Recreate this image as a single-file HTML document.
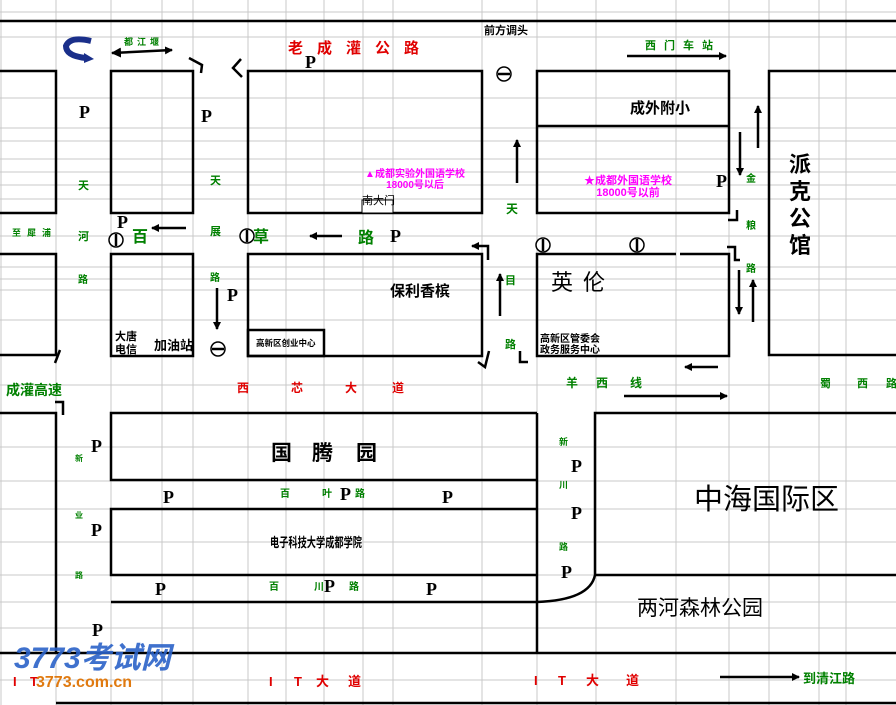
<!DOCTYPE html>
<html><head><meta charset="utf-8"><style>
html,body{margin:0;padding:0;background:#fff;}
svg{display:block;}
text{font-family:"Liberation Sans","Noto Sans CJK SC",sans-serif;}
.b{font-weight:bold;}
.g{fill:#008000;font-weight:bold;}
.r{fill:#e00000;font-weight:bold;}
.m{fill:#ff00ff;font-weight:bold;}
.P{font-family:"Liberation Serif",serif;font-size:18px;font-weight:bold;}
</style></head><body>
<svg width="896" height="705" viewBox="0 0 896 705" xmlns="http://www.w3.org/2000/svg">
<defs>
<marker id="ah" markerWidth="8" markerHeight="8" refX="7" refY="4" orient="auto" markerUnits="userSpaceOnUse"><path d="M0,0 L8,4 L0,8 Z" fill="#000"/></marker>
<marker id="ah2" markerWidth="10" markerHeight="10" refX="1" refY="5" orient="auto" markerUnits="userSpaceOnUse"><path d="M10,0 L0,5 L10,10 Z" fill="#000"/></marker>
</defs>
<g stroke="#c8c8c8" stroke-width="1">
<path d="M1,0V705M56,0V705M111,0V705M162,0V705M193,0V705M248,0V705M286,0V705M324,0V705M363,0V705M393,0V705M482,0V705M537,0V705M596,0V705M676,0V705M729,0V705M769,0V705M819,0V705M846,0V705"/>
<path d="M0,12H896M0,37H896M0,98H896M0,128H896M0,141H896M0,159H896M0,172H896M0,185H896M0,199H896M0,236H896M0,267H896M0,279H896M0,290H896M0,320H896M0,385H896M0,447H896M0,481H896M0,509H896M0,542H896M0,575H896M0,602H896M0,628H896M0,680H896"/>
</g>
<g fill="none" stroke="#000" stroke-width="2.5">
<path d="M0,21H896"/>
<path d="M0,71H56V213H0"/>
<rect x="111" y="71" width="82" height="142"/>
<rect x="248" y="71" width="234" height="142"/>
<rect x="537" y="71" width="192" height="142"/>
<path d="M537,126H729"/>
<path d="M896,71H769V355H896"/>
<path d="M0,254H56V355H0"/>
<rect x="111" y="254" width="82" height="102"/>
<rect x="248" y="254" width="234" height="102"/>
<rect x="248" y="330" width="76" height="26"/>
<path d="M676,254H537V356H729V254H680"/>
<path d="M0,413H56V653"/>
<path d="M537,413H111V480H537M537,509H111V575H537M537,602H111"/>
<path d="M537,413V602M537,602V653"/>
<path d="M896,413H595V575Q590,600 537,602"/>
<path d="M595,575H896"/>
<path d="M0,653H896M56,703H896"/>
</g>
<rect x="362" y="200" width="31" height="13" fill="#fff" stroke="#000" stroke-width="1"/>
<g stroke="#000" stroke-width="2.5" fill="none">
<line x1="112" y1="53" x2="172" y2="50" marker-end="url(#ah)" marker-start="url(#ah2)"/>
<line x1="627" y1="56" x2="726" y2="56" marker-end="url(#ah)"/>
<line x1="186" y1="228" x2="152" y2="228" marker-end="url(#ah)"/>
<line x1="342" y1="236" x2="310" y2="236" marker-end="url(#ah)"/>
<line x1="517" y1="183" x2="517" y2="140" marker-end="url(#ah)"/>
<line x1="500" y1="316" x2="500" y2="274" marker-end="url(#ah)"/>
<line x1="217" y1="288" x2="217" y2="329" marker-end="url(#ah)"/>
<line x1="740" y1="132" x2="740" y2="175" marker-end="url(#ah)"/>
<line x1="758" y1="148" x2="758" y2="106" marker-end="url(#ah)"/>
<line x1="739" y1="270" x2="739" y2="314" marker-end="url(#ah)"/>
<line x1="753" y1="322" x2="753" y2="280" marker-end="url(#ah)"/>
<line x1="718" y1="367" x2="685" y2="367" marker-end="url(#ah)"/>
<line x1="624" y1="396" x2="727" y2="396" marker-end="url(#ah)"/>
<line x1="720" y1="677" x2="799" y2="677" marker-end="url(#ah)"/>
<path d="M189,58L202,65L201,73" /><path d="M242,77L233,68L241,59"/>
<path d="M488,260V246H472" marker-end="url(#ah)"/>
<path d="M737,210V220H728"/><path d="M727,247H735V260H740" />
<path d="M55,363L60,350"/><path d="M55,402H63V415"/>
<path d="M478,362L485,367L489,351"/><path d="M520,351V362H528"/>
</g>
<path d="M91,41Q70,36 66,46Q66,56 86,58" fill="none" stroke="#1a2f8a" stroke-width="6"/>
<path d="M84,53L94,59L84,63Z" fill="#1a2f8a"/>
<g fill="#fff" stroke="#000" stroke-width="1.5">
<circle cx="504" cy="74" r="7"/><circle cx="218" cy="349" r="7"/>
<circle cx="116" cy="240" r="7"/><circle cx="247" cy="236" r="7"/>
<circle cx="543" cy="245" r="7"/><circle cx="637" cy="245" r="7"/>
</g>
<g stroke="#000" stroke-width="2.5">
<path d="M498,74H510M212,349H224M116,234V246M247,230V242M543,239V251M637,239V251"/>
</g>
<text x="288" y="53" class="r" font-size="15" letter-spacing="14">老成灌公路</text>
<text x="484" y="34" class="b" font-size="11">前方调头</text>
<text x="645" y="49" class="g" font-size="11" letter-spacing="8">西门车站</text>
<text x="124" y="45" class="g" font-size="9" letter-spacing="4">都江堰</text>
<text x="79" y="118" class="P">P</text><text x="201" y="122" class="P">P</text><text x="305" y="68" class="P">P</text>
<text x="78" y="189" class="g" font-size="11">天</text><text x="210" y="184" class="g" font-size="11">天</text><text x="506" y="213" class="g" font-size="12">天</text>
<text x="78" y="240" class="g" font-size="11">河</text><text x="210" y="235" class="g" font-size="11">展</text>
<text x="78" y="283" class="g" font-size="10">路</text><text x="210" y="281" class="g" font-size="10">路</text>
<text x="12" y="236" class="g" font-size="9" letter-spacing="6">至犀浦</text>
<text x="117" y="228" class="P">P</text>
<text x="132" y="242" class="g" font-size="16">百</text>
<text x="253" y="242" class="g" font-size="16">草</text>
<text x="358" y="243" class="g" font-size="16">路</text>
<text x="390" y="242" class="P">P</text>
<text x="415" y="177" class="m" font-size="10" text-anchor="middle">▲成都实验外国语学校</text>
<text x="415" y="188" class="m" font-size="10" text-anchor="middle">18000号以后</text>
<text x="362" y="204" font-size="11">南大门</text>
<text x="628" y="184" class="m" font-size="11" text-anchor="middle">★成都外国语学校</text>
<text x="628" y="196" class="m" font-size="11" text-anchor="middle">18000号以前</text>
<text x="630" y="113" class="b" font-size="15">成外附小</text>
<text x="716" y="187" class="P">P</text>
<text x="746" y="182" class="g" font-size="10">金</text><text x="746" y="229" class="g" font-size="10">粮</text><text x="746" y="272" class="g" font-size="10">路</text>
<text x="789" y="172" font-size="22" font-weight="bold">派</text><text x="789" y="199" font-size="22" font-weight="bold">克</text><text x="789" y="226" font-size="22" font-weight="bold">公</text><text x="789" y="253" font-size="22" font-weight="bold">馆</text>
<text x="551" y="290" font-size="22" letter-spacing="10">英伦</text>
<text x="390" y="296" class="b" font-size="15">保利香槟</text>
<text x="505" y="284" class="g" font-size="11">目</text><text x="505" y="348" class="g" font-size="11">路</text>
<text x="115" y="340" class="b" font-size="11">大唐</text><text x="115" y="353" class="b" font-size="11">电信</text>
<text x="154" y="350" class="b" font-size="13">加油站</text>
<text x="227" y="301" class="P">P</text>
<text x="256" y="346" class="b" font-size="8.5">高新区创业中心</text>
<text x="540" y="342" class="b" font-size="10">高新区管委会</text>
<text x="540" y="353" class="b" font-size="10">政务服务中心</text>
<text x="6" y="395" class="g" font-size="14" font-weight="normal">成灌高速</text>
<text x="237" y="392" class="r" font-size="12">西</text><text x="291" y="392" class="r" font-size="12">芯</text><text x="345" y="392" class="r" font-size="12">大</text><text x="392" y="392" class="r" font-size="12">道</text>
<text x="566" y="387" class="g" font-size="12">羊</text><text x="596" y="387" class="g" font-size="12">西</text><text x="630" y="387" class="g" font-size="12">线</text>
<text x="820" y="387" class="g" font-size="11">蜀</text><text x="857" y="387" class="g" font-size="11">西</text><text x="886" y="387" class="g" font-size="11">路</text>
<text x="271" y="460" font-size="21" font-weight="bold">国</text><text x="312" y="460" font-size="21" font-weight="bold">腾</text><text x="356" y="460" font-size="21" font-weight="bold">园</text>
<text x="75" y="461" class="g" font-size="8">新</text><text x="91" y="452" class="P">P</text>
<text x="75" y="518" class="g" font-size="8">业</text><text x="91" y="536" class="P">P</text>
<text x="75" y="578" class="g" font-size="8">路</text><text x="92" y="636" class="P">P</text>
<text x="163" y="503" class="P">P</text><text x="280" y="497" class="g" font-size="10">百</text><text x="322" y="497" class="g" font-size="10">叶</text><text x="340" y="500" class="P">P</text><text x="355" y="497" class="g" font-size="10">路</text><text x="442" y="503" class="P">P</text>
<text x="270" y="547" class="b" font-size="13" textLength="92" lengthAdjust="spacingAndGlyphs">电子科技大学成都学院</text>
<text x="155" y="595" class="P">P</text><text x="269" y="590" class="g" font-size="10">百</text><text x="314" y="590" class="g" font-size="10">川</text><text x="324" y="592" class="P">P</text><text x="349" y="590" class="g" font-size="10">路</text><text x="426" y="595" class="P">P</text>
<text x="559" y="445" class="g" font-size="9">新</text><text x="571" y="472" class="P">P</text>
<text x="559" y="488" class="g" font-size="9">川</text><text x="571" y="519" class="P">P</text>
<text x="559" y="550" class="g" font-size="9">路</text><text x="561" y="578" class="P">P</text>
<text x="694" y="509" font-size="29">中海国际区</text>
<text x="637" y="615" font-size="21">两河森林公园</text>
<text x="269" y="686" class="r" font-size="13">I</text><text x="294" y="686" class="r" font-size="13">T</text><text x="316" y="686" class="r" font-size="13">大</text><text x="348" y="686" class="r" font-size="13">道</text>
<text x="534" y="685" class="r" font-size="13">I</text><text x="558" y="685" class="r" font-size="13">T</text><text x="586" y="685" class="r" font-size="13">大</text><text x="626" y="685" class="r" font-size="13">道</text>
<text x="13" y="686" class="r" font-size="13">I</text><text x="30" y="686" class="r" font-size="13">T</text>
<text x="803" y="683" class="g" font-size="13">到清江路</text>
<text x="14" y="668" font-size="30" font-style="italic" font-weight="bold" fill="#2a62c8" fill-opacity="0.9">3773考试网</text>
<text x="36" y="687" font-size="16" font-weight="bold" fill="#e07a10">3773.com.cn</text>
</svg>
</body></html>
